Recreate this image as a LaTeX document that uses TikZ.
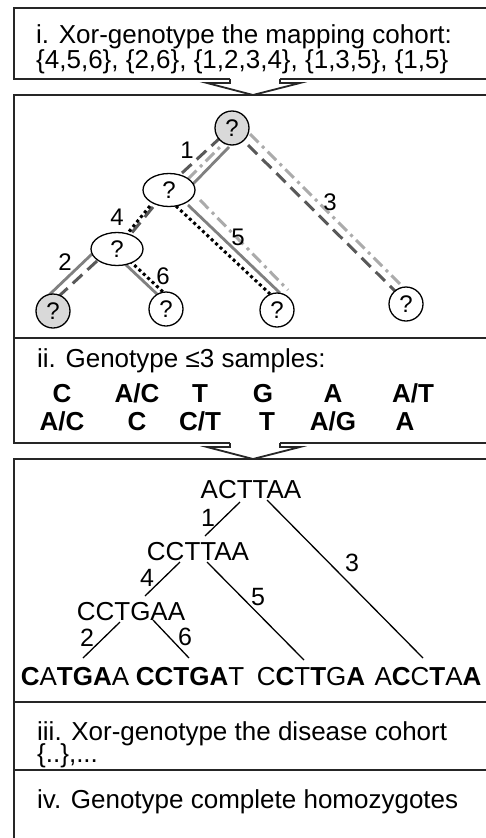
\documentclass[tikz,border=0pt]{standalone}
\usepackage{fontspec}
\setmainfont{Liberation Sans}
\usetikzlibrary{calc,shapes.geometric,backgrounds}
\begin{document}
\begin{tikzpicture}[x=1pt,y=-1pt,
 frame/.style={draw=black!85,line width=1.8pt},
 txt/.style={anchor=base west,inner sep=0pt,font=\fontsize{26}{27}\selectfont},
 gt/.style={anchor=base,inner sep=0pt,font=\fontsize{26}{27}\selectfont\bfseries},
 seq/.style={anchor=base,inner sep=0pt,font=\fontsize{26}{27}\selectfont},
 qc/.style={circle,draw=black,line width=1.3pt,fill=white,minimum size=34pt,inner sep=0pt,font=\fontsize{24}{24}\selectfont},
 qe/.style={ellipse,draw=black,line width=1.3pt,fill=white,minimum width=52pt,minimum height=33pt,inner sep=0pt,font=\fontsize{24}{24}\selectfont},
 lab/.style={inner sep=0pt,font=\fontsize{24}{24}\selectfont},
 tlab/.style={inner sep=0pt,font=\fontsize{25}{25}\selectfont},
 sdot/.style={black,line width=3pt,dash pattern=on 3pt off 3pt},
 ssol/.style={black!50,line width=2.8pt},
 sdash/.style={black!65,line width=3pt,dash pattern=on 13pt off 7pt},
 sdd/.style={black!33,line width=3pt,dash pattern=on 12pt off 5pt on 3pt off 5pt},
 tedge/.style={black,line width=1.3pt},
 arr/.style={draw=black!85,line width=1.8pt,fill=white,line join=miter}
]
\useasboundingbox (0,0) rectangle (486,838);
\begin{pgfonlayer}{background}
\fill[white] (0,0) rectangle (486,838);
\end{pgfonlayer}
\clip (0,0) rectangle (486,838);
% frames
\draw[frame] (230,79) -- (14,79) -- (14,8) -- (500,8);
\draw[frame] (280,79) -- (500,79);
\draw[frame] (230,443) -- (14,443) -- (14,95) -- (500,95);
\draw[frame] (280,443) -- (500,443);
\draw[frame] (14,338) -- (500,338);
\draw[frame] (14,850) -- (14,459) -- (500,459);
\draw[frame] (14,702) -- (500,702);
\draw[frame] (14,770) -- (500,770);
% block arrows
\draw[arr] (230,79) -- (230,83) -- (207,83) -- (253,95) -- (300,83) -- (280,83) -- (280,79);
\draw[arr] (230,443) -- (230,447) -- (207,447) -- (253,459) -- (300,447) -- (280,447) -- (280,443);
% box 1 text
\node[txt] (h1a) at (36,43) {i. Xor-genotype the mapping cohort:};
\node[txt] (h1b) at (36,68) {\{4,5,6\}, \{2,6\}, \{1,2,3,4\}, \{1,3,5\}, \{1,5\}};
% tree 1 nodes
\node[qc,fill=black!15] (r) at (232,128) {?};
\node[qe] (n1) at (169,190) {?};
\node[qe] (n2) at (117,249) {?};
\node[qc,fill=black!15] (la) at (53,311) {?};
\node[qc] (lb) at (166,309) {?};
\node[qc] (lc) at (277,310) {?};
\node[qc] (ld) at (406,304) {?};
\begin{pgfonlayer}{background}
% edge 1
\draw[sdash] ($(n1)+(13,-17)$) -- ($(r)+(-12,10)$);
\draw[sdd] ($(n1)+(19,-11)$) -- ($(r)+(-7,14)$);
\draw[ssol] ($(n1)+(24,-6)$) -- ($(r)+(-3,19)$);
% edge 3
\draw[sdash] ($(r)+(16,17)$) -- ($(ld)+(-10,-12)$);
\draw[sdd] ($(r)+(18,6)$) -- ($(ld)+(-3,-17)$);
% edge 4
\draw[sdash] ($(n1)+(-16,17)$) -- ($(n2)+(13,-14)$);
\draw[sdot] ($(n1)+(-19,16)$) -- ($(n2)+(10,-15)$);
% edge 2
\draw[ssol] ($(n2)+(-25,5)$) -- ($(la)+(-4,-16)$);
\draw[sdash] ($(n2)+(-20,12)$) -- ($(la)+(5,-14)$);
% edge 6
\draw[ssol] ($(n2)+(7,14)$) -- ($(lb)+(-8,-14)$);
\draw[sdot] ($(n2)+(13,12)$) -- ($(lb)+(-3,-17)$);
% edge 5
\draw[sdot] ($(n1)+(7,16)$) -- ($(lc)+(-7,-16)$);
\draw[ssol] ($(n1)+(19,15)$) -- ($(lc)+(3,-17)$);
\draw[sdd] ($(n1)+(31,10)$) -- ($(lc)+(11,-20)$);
\end{pgfonlayer}
% tree 1 labels
\node[lab] (e1) at (187,150) {1};
\node[lab] (e3) at (330,202) {3};
\node[lab] (e4) at (117,217) {4};
\node[lab] (e5) at (238,237) {5};
\node[lab] (e2) at (65,262) {2};
\node[lab] (e6) at (163,276) {6};
% box 3
\node[txt] (h2) at (37,367) {ii. Genotype ≤3 samples:};
\node[gt] (g11) at (62,402) {C};
\node[gt] (g12) at (137,402) {A/C};
\node[gt] (g13) at (200,402) {T};
\node[gt] (g14) at (263,402) {G};
\node[gt] (g15) at (333,402) {A};
\node[gt] (g16) at (413,402) {A/T};
\node[gt] (g21) at (62,430) {A/C};
\node[gt] (g22) at (137,430) {C};
\node[gt] (g23) at (200,430) {C/T};
\node[gt] (g24) at (267,430) {T};
\node[gt] (g25) at (333,430) {A/G};
\node[gt] (g26) at (405,430) {A};
% tree 2
\node[seq] (t0) at (251,498) {ACTTAA};
\node[seq] (t1) at (198,560) {CCTTAA};
\node[seq] (t2) at (131,620) {CCTGAA};
\node[seq] (s1) at (75,685) {\textbf{C}A\textbf{TGA}A};
\node[seq] (s2) at (190,685) {\textbf{CCTGA}T};
\node[seq] (s3) at (311,685) {C\textbf{C}T\textbf{T}G\textbf{A}};
\node[seq] (s4) at (428,685) {A\textbf{C}C\textbf{T}A\textbf{A}};
\draw[tedge] ($(t0.base)+(-11,4)$) -- ($(t1.base)+(7,-24)$);
\draw[tedge] ($(t0.base)+(16,2)$) -- ($(s4.base)+(-5,-27)$);
\draw[tedge] ($(t1.base)+(-18,2)$) -- ($(t2.base)+(14,-24)$);
\draw[tedge] ($(t1.base)+(9,2)$) -- ($(s3.base)+(-7,-25)$);
\draw[tedge] ($(t2.base)+(-11,2)$) -- ($(s1.base)+(8,-27)$);
\draw[tedge] ($(t2.base)+(22,0)$) -- ($(s2.base)+(-1,-27)$);
\node[tlab] (f1) at (208,518) {1};
\node[tlab] (f3) at (352,563) {3};
\node[tlab] (f4) at (147,578) {4};
\node[tlab] (f5) at (258,597) {5};
\node[tlab] (f2) at (87,638) {2};
\node[tlab] (f6) at (185,637) {6};
% box 5, 6
\node[txt] (h3a) at (37,740) {iii. Xor-genotype the disease cohort};
\node[txt] (h3b) at (37,762) {\{..\},...};
\node[txt] (h4) at (37,808) {iv. Genotype complete homozygotes};
\end{tikzpicture}
\end{document}
